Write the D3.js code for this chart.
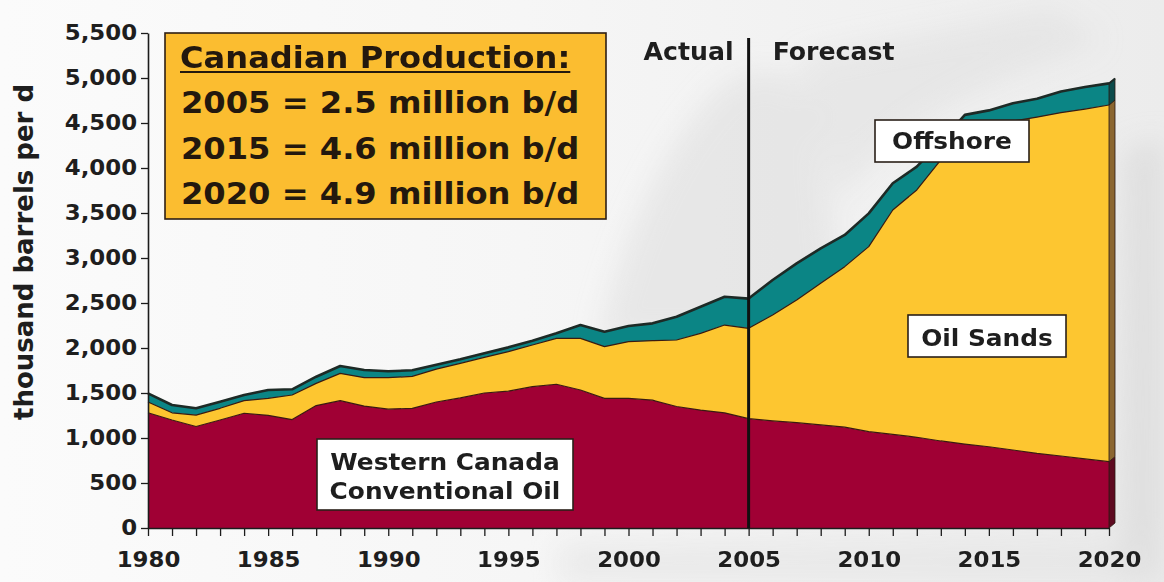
<!DOCTYPE html>
<html>
<head>
<meta charset="utf-8">
<script src="https://cdn.jsdelivr.net/npm/d3@7"></script>
<style>
  html, body { margin: 0; padding: 0; background: #f3f3f3; }
  svg { display: block; }
  text { font-family: "DejaVu Sans", Verdana, sans-serif; }
</style>
</head>
<body>
<svg id="chart" width="1164" height="582"></svg>
<script>
// Canadian crude oil production by source, thousand barrels per day
const years = [1980, 1981, 1982, 1983, 1984, 1985, 1986, 1987, 1988, 1989,
               1990, 1991, 1992, 1993, 1994, 1995, 1996, 1997, 1998, 1999,
               2000, 2001, 2002, 2003, 2004, 2005, 2006, 2007, 2008, 2009,
               2010, 2011, 2012, 2013, 2014, 2015, 2016, 2017, 2018, 2019, 2020];

const conventional = [1280, 1200, 1128, 1200, 1275, 1252, 1205, 1360, 1415, 1355,
                      1320, 1330, 1400, 1445, 1500, 1520, 1570, 1597, 1533, 1440,
                      1440, 1420, 1350, 1310, 1280, 1215, 1190, 1170, 1145, 1120,
                      1070, 1040, 1008,  967,  933,  903,  867,  830,  800,  767, 737];

const oilSands = [ 120,   80,  127,  130,  140,  189,  273,  247,  303,  315,
                   350,  355,  365,  385,  396,  439,  463,  510,  574,  575,
                   630,  661,  739,  853,  975, 1004, 1177, 1363, 1574, 1784,
                  2056, 2493, 2748, 3122, 3397, 3537, 3653, 3735, 3815, 3888, 3963];

const offshore = [  95,   87,   75,   74,   63,   92,   63,   74,   82,   85,
                    72,   67,   50,   44,   45,   48,   48,   56,  148,  166,
                   174,  193,  259,  296,  315,  330,  389,  408,  388,  352,
                   370,  297,  259,  204,  260,  200,  200,  205,  235,  245, 240];

const yTicks = [0, 500, 1000, 1500, 2000, 2500, 3000, 3500, 4000, 4500, 5000, 5500];
const xTickLabels = [1980, 1985, 1990, 1995, 2000, 2005, 2010, 2015, 2020];
const splitYear = 2005;

const headlineTitle = "Canadian Production:";
const headlineLines = ["2005 = 2.5 million b/d", "2015 = 4.6 million b/d", "2020 = 4.9 million b/d"];

const seriesKeys = ["conventional", "oilSands", "offshore"];
const colors = { conventional: "#a00034", oilSands: "#fdc630", offshore: "#0b8585" };
const sideColors = { conventional: "#5e0a20", oilSands: "#8b6630", offshore: "#0c4b4b" };
const outline = "#2a1810";
const SX = 1.09;   // horizontal widening of the lettering

const svg = d3.select("#chart");
const W = 1164, H = 582;

// ---- background wash with soft grey silhouettes
const defs = svg.append("defs");
const blur = defs.append("filter").attr("id", "soft").attr("x", "-30%").attr("y", "-30%")
  .attr("width", "160%").attr("height", "160%");
blur.append("feGaussianBlur").attr("stdDeviation", 14);
const bgGrad = defs.append("linearGradient").attr("id", "bg").attr("x1", 0).attr("x2", 1).attr("y1", 0).attr("y2", 0);
bgGrad.append("stop").attr("offset", "0%").attr("stop-color", "#fbfbfb");
bgGrad.append("stop").attr("offset", "45%").attr("stop-color", "#f6f6f6");
bgGrad.append("stop").attr("offset", "100%").attr("stop-color", "#ececec");

svg.append("rect").attr("width", W).attr("height", H).attr("fill", "url(#bg)");
const bg = svg.append("g").attr("filter", "url(#soft)");
bg.append("path").attr("d", "M600,340 C620,250 660,150 720,90 C760,60 800,70 820,110 L840,340 Z")
  .attr("fill", "#dcdcdc").attr("opacity", 0.55);
bg.append("path").attr("d", "M800,60 C880,40 960,30 1050,10 L1100,40 C1000,80 900,110 840,200 Z")
  .attr("fill", "#dedede").attr("opacity", 0.5);
bg.append("path").attr("d", "M1125,150 L1164,140 L1164,582 L1120,582 Z")
  .attr("fill", "#d8d8d8").attr("opacity", 0.7);
bg.append("path").attr("d", "M560,545 L1164,540 L1164,582 L560,582 Z")
  .attr("fill", "#e2e2e2").attr("opacity", 0.6);

// ---- scales
const x = d3.scaleLinear().domain([1980, 2020]).range([148, 1109]);
const y = d3.scaleLinear().domain([0, 5500]).range([528, 33]);

const rows = years.map((yr, i) => ({
  year: yr, conventional: conventional[i], oilSands: oilSands[i], offshore: offshore[i]
}));
const layers = d3.stack().keys(seriesKeys)(rows);

const area = d3.area().x(d => x(d.data.year)).y0(d => y(d[0])).y1(d => y(d[1]));
const topLine = d3.line().x(d => x(d.data.year)).y(d => y(d[1]));

const plot = svg.append("g");

// stacked areas
plot.selectAll("path.layer").data(layers).join("path")
  .attr("class", "layer")
  .attr("d", area)
  .attr("fill", d => colors[d.key]);

// right-hand depth face at the last year
const depth = { dx: 6, dy: 5 };
layers.forEach(layer => {
  const last = layer[layer.length - 1];
  const xr = x(last.data.year);
  const y0 = y(last[0]), y1 = y(last[1]);
  plot.append("path")
    .attr("d", `M${xr},${y0} L${xr},${y1} L${xr + depth.dx},${y1 - depth.dy} L${xr + depth.dx},${y0 - depth.dy} Z`)
    .attr("fill", sideColors[layer.key])
    .attr("stroke", outline).attr("stroke-width", 0.8).attr("stroke-linejoin", "round");
});

// boundary strokes along each layer top
plot.selectAll("path.edge").data(layers).join("path")
  .attr("class", "edge")
  .attr("d", topLine)
  .attr("fill", "none")
  .attr("stroke", (d, i) => i === 2 ? "#1d2a26" : "#3a1a10")
  .attr("stroke-width", (d, i) => i === 2 ? 2.6 : 1.2)
  .attr("stroke-linejoin", "round");

// top edge of the depth face
{
  const lastTop = layers[2][layers[2].length - 1];
  const xr = x(lastTop.data.year), yt = y(lastTop[1]);
  plot.append("path")
    .attr("d", `M${xr},${yt} L${xr + depth.dx},${yt - depth.dy}`)
    .attr("stroke", "#1d2a26").attr("stroke-width", 2);
}

// ---- axes
const axisColor = "#1c1c1c";
const yAxis = svg.append("g").attr("transform", `translate(${x(1980)},0)`)
  .call(d3.axisLeft(y).tickValues(yTicks).tickFormat(d3.format(",")).tickSize(7).tickSizeOuter(0).tickPadding(3));
const xAxis = svg.append("g").attr("transform", `translate(0,${y(0)})`)
  .call(d3.axisBottom(x).tickValues(years)
    .tickFormat(d => xTickLabels.includes(d) ? String(d) : "")
    .tickSize(8).tickSizeOuter(0).tickPadding(16));

[yAxis, xAxis].forEach(g => {
  g.select(".domain").attr("stroke", axisColor).attr("stroke-width", 1.6);
  g.selectAll(".tick line").attr("stroke", axisColor).attr("stroke-width", 1.3);
  g.selectAll(".tick text")
    .attr("fill", "#1e1e1e")
    .style("font-family", "'DejaVu Sans', Verdana, sans-serif")
    .style("font-weight", "bold")
    .style("font-size", "21px");
});
yAxis.selectAll(".tick text").attr("x", -10).attr("transform", `scale(${SX},1)`);
xAxis.selectAll(".tick text").attr("transform", `scale(${SX},1)`);

// y axis title
svg.append("text")
  .attr("transform", `translate(33,252) rotate(-90)`)
  .attr("text-anchor", "middle")
  .attr("fill", "#1e1e1e")
  .style("font-weight", "bold").style("font-size", "26px")
  .text("thousand barrels per d");

// ---- actual / forecast divider
svg.append("line")
  .attr("x1", x(splitYear)).attr("x2", x(splitYear))
  .attr("y1", 38).attr("y2", y(0))
  .attr("stroke", "#111").attr("stroke-width", 3);

function wideText(px, py, str, opts) {
  const g = svg.append("g").attr("transform", `translate(${px},${py}) scale(${opts.sx || SX},1)`);
  return g.append("text")
    .attr("text-anchor", opts.anchor || "start")
    .attr("fill", opts.fill || "#1e1e1e")
    .style("font-weight", opts.weight || "bold")
    .style("font-size", opts.size + "px")
    .text(str);
}
wideText(x(splitYear) - 15, 60, "Actual", { anchor: "end", size: 24, sx: 1.05 });
wideText(x(splitYear) + 24, 60, "Forecast", { anchor: "start", size: 24, sx: 1.05 });

// ---- headline box
svg.append("rect").attr("x", 165).attr("y", 33).attr("width", 441).attr("height", 186)
  .attr("fill", "#fbbd30").attr("stroke", "#2e1f14").attr("stroke-width", 1.6);
const titleText = wideText(180, 68, headlineTitle, { size: 29.5, fill: "#23180e" });
{
  const len = titleText.node().getComputedTextLength() * SX;
  svg.append("line").attr("x1", 180).attr("x2", 180 + len).attr("y1", 72).attr("y2", 72)
    .attr("stroke", "#23180e").attr("stroke-width", 2);
}
headlineLines.forEach((s, i) => wideText(181, 113 + i * 45.5, s, { size: 29.5, fill: "#23180e" }));

// ---- series labels
function labelBox(x0, y0, w, h, lines, baselines) {
  svg.append("rect").attr("x", x0).attr("y", y0).attr("width", w).attr("height", h)
    .attr("fill", "#ffffff").attr("stroke", "#2a2018").attr("stroke-width", 1.6);
  lines.forEach((s, i) => wideText(x0 + w / 2, baselines[i], s, { anchor: "middle", size: 23, sx: 1.08 }));
}
labelBox(875, 120, 154, 42, ["Offshore"], [148.5]);
labelBox(908, 315, 158, 42, ["Oil Sands"], [346]);
labelBox(317, 439, 256, 71, ["Western Canada", "Conventional Oil"], [470, 498.5]);
</script>
</body>
</html>
